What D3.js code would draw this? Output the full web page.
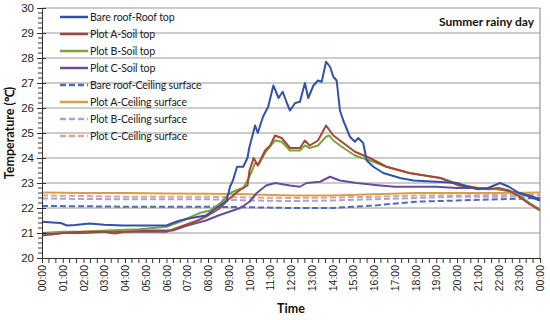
<!DOCTYPE html>
<html><head><meta charset="utf-8">
<script src="https://cdn.jsdelivr.net/npm/d3@7"></script>
<style>body{margin:0;background:#fff}svg{display:block;font-family:Lato,"Open Sans",sans-serif}</style>
</head><body><svg id="c" width="550" height="320"></svg>
<script>
const seriesNames = ["Bare roof-Roof top","Plot A-Soil top","Plot B-Soil top","Plot C-Soil top","Bare roof-Ceiling surface","Plot A-Ceiling surface","Plot B-Ceiling surface","Plot C-Ceiling surface"];
const seriesColors = ["#3152a6","#a4473a","#7fa23c","#6a4c9c","#4a6db5","#d4a04a","#a9a3dc","#dca596"];
const seriesDash = [null,null,null,null,"6,3",null,"6,3","6,3"];
const yTicks = [20,21,22,23,24,25,26,27,28,29,30];
const xTickLabels = ["00:00","01:00","02:00","03:00","04:00","05:00","06:00","07:00","08:00","09:00","10:00","11:00","12:00","13:00","14:00","15:00","16:00","17:00","18:00","19:00","20:00","21:00","22:00","23:00","00:00"];

const roofTopT = [0,0.5,0.9,1.2,1.6,2.3,3.0,3.9,4.5,5.2,6.0,6.3,6.65,7.2,7.9,8.4,8.9,9.06,9.2,9.4,9.7,9.9,10.0,10.27,10.4,10.65,10.9,11.15,11.4,11.6,11.8,11.95,12.2,12.43,12.67,12.83,13.08,13.3,13.48,13.69,13.88,14.04,14.2,14.36,14.52,14.84,15.08,15.24,15.48,15.65,15.97,16.45,17.25,17.9,19.0,20.0,20.5,21.0,21.5,22.07,22.5,23.0,23.5,24];
const roofTopV = [21.45,21.42,21.4,21.3,21.32,21.38,21.33,21.3,21.3,21.3,21.3,21.4,21.5,21.6,21.7,22.0,22.3,22.85,23.1,23.65,23.65,24.0,24.45,25.3,25.0,25.65,26.05,26.9,26.4,26.65,26.2,25.9,26.2,26.25,27.0,26.4,26.9,27.1,27.05,27.85,27.65,27.25,27.1,25.9,25.5,24.85,24.65,24.8,24.6,23.9,23.65,23.4,23.2,23.1,23.05,23.0,22.85,22.75,22.8,23.0,22.85,22.6,22.45,22.3];

const soilAT = [0,0.5,1,2,3,3.5,4,5,6,6.5,7,7.5,8,8.5,9,9.5,9.9,10.0,10.2,10.4,10.75,11.0,11.23,11.55,11.95,12.43,12.67,12.9,13.3,13.69,14.04,14.36,15.08,15.8,16.6,17.7,19.2,20.1,21,21.5,22,22.5,23,23.5,24];
const soilAV = [21.0,20.95,21.0,21.05,21.05,20.98,21.05,21.05,21.05,21.2,21.35,21.5,21.7,21.95,22.35,22.7,22.9,23.5,24.0,23.7,24.3,24.5,24.9,24.8,24.4,24.4,24.7,24.5,24.7,25.3,24.9,24.7,24.25,24.0,23.65,23.4,23.2,22.9,22.8,22.75,22.8,22.7,22.45,22.15,21.9];

const soilBT = [0,1,2,3.1,4.7,6.0,6.65,7.6,8.1,8.6,9.06,9.5,9.7,10.0,10.27,10.45,10.75,11.23,11.55,11.95,12.43,12.67,12.9,13.3,13.69,13.85,14.04,14.36,15.08,15.8,16.6,17.7,19.2,20.1,21,22,22.5,23,23.5,24];
const soilBV = [21.0,21.05,21.05,21.1,21.15,21.25,21.45,21.8,21.9,22.2,22.6,22.75,22.8,23.25,23.8,23.75,24.2,24.7,24.65,24.3,24.3,24.5,24.4,24.5,24.85,24.9,24.7,24.5,24.1,23.9,23.65,23.4,23.2,22.95,22.8,22.75,22.7,22.5,22.2,21.95];

const soilCT = [0,0.5,1,2,3,4,5,6,6.3,7,7.9,8.5,9.55,10.0,10.35,10.8,11.23,11.95,12.43,12.75,13.4,13.88,14.36,15.17,16.3,17,18,19,20,21,22,23,23.5,24];
const soilCV = [20.9,20.95,21.0,21.0,21.05,21.05,21.1,21.1,21.1,21.3,21.5,21.7,22.0,22.25,22.6,22.9,23.0,22.9,22.85,23.0,23.05,23.25,23.1,23.0,22.9,22.85,22.85,22.85,22.8,22.8,22.75,22.6,22.5,22.35];

const ceilT = [0,2,4,6,8,10,12,14,16,18,20,22,24];
const ceilBareV = [22.08,22.07,22.05,22.05,22.05,22.03,22.0,22.0,22.1,22.25,22.3,22.35,22.4];
const ceilAV = [22.62,22.6,22.6,22.58,22.57,22.55,22.5,22.5,22.55,22.6,22.6,22.6,22.62];
const ceilBV = [22.38,22.36,22.35,22.35,22.35,22.3,22.28,22.3,22.35,22.4,22.45,22.45,22.5];
const ceilCV = [22.5,22.48,22.45,22.45,22.45,22.42,22.4,22.42,22.45,22.5,22.5,22.52,22.55];

const seriesT = [roofTopT,soilAT,soilBT,soilCT,ceilT,ceilT,ceilT,ceilT];
const seriesV = [roofTopV,soilAV,soilBV,soilCV,ceilBareV,ceilAV,ceilBV,ceilCV];

const svg = d3.select("#c");
const L=42,R=540,T=8,B=258;
const x = d3.scaleLinear().domain([0,24]).range([L,R]);
const y = d3.scaleLinear().domain([20,30]).range([B,T]);

svg.append("g").selectAll("line").data(yTicks.filter(d=>d>20)).join("line")
  .attr("x1",L).attr("x2",R).attr("y1",d=>y(d)).attr("y2",d=>y(d))
  .attr("stroke","#9a9a9a").attr("stroke-width",1.2);
svg.append("line").attr("x1",R).attr("x2",R).attr("y1",T).attr("y2",B).attr("stroke","#9a9a9a").attr("stroke-width",1.2);

const order=[4,5,6,7,3,2,1,0];
const line = d3.line().x(d=>x(d[0])).y(d=>y(d[1])).curve(d3.curveLinear);
order.forEach(i=>{
  const pts = seriesT[i].map((t,k)=>[t,seriesV[i][k]]);
  svg.append("path").attr("d",line(pts)).attr("fill","none")
    .attr("stroke",seriesColors[i]).attr("stroke-width",2)
    .attr("stroke-dasharray",seriesDash[i]).attr("stroke-linejoin","round");
});

const ya = svg.append("g").attr("transform",`translate(${L},0)`)
  .call(d3.axisLeft(y).tickValues(yTicks).tickFormat(d3.format("d")).tickSize(5).tickSizeOuter(0));
ya.select(".domain").attr("stroke","#333");
ya.selectAll(".tick line").attr("stroke","#333").attr("x2",-5).attr("x1",4);
ya.selectAll("text").attr("font-size",11.5).attr("fill","#222").attr("x",-8);
const minorY = d3.range(200,301,2).map(v=>v/10).filter(v=>Math.abs(v-Math.round(v))>0.01);
ya.append("g").selectAll("line").data(minorY).join("line")
  .attr("x1",-4).attr("x2",0).attr("y1",d=>y(d)).attr("y2",d=>y(d)).attr("stroke","#333");

const xa = svg.append("g").attr("transform",`translate(0,${B})`)
  .call(d3.axisBottom(x).tickValues(d3.range(0,25,1)).tickFormat((d,i)=>xTickLabels[i]).tickSize(5).tickSizeOuter(0));
xa.select(".domain").attr("stroke","#333");
xa.selectAll(".tick line").attr("stroke","#333");
xa.selectAll("text").attr("font-size",10.5).attr("fill","#222")
  .attr("transform","rotate(-90)").attr("text-anchor","end").attr("x",-7).attr("y",0).attr("dy","0.35em");
const minorX = d3.range(0,72).map(k=>k/3).filter(v=>Math.abs(v-Math.round(v))>0.01);
xa.append("g").selectAll("line").data(minorX).join("line")
  .attr("x1",d=>x(d)).attr("x2",d=>x(d)).attr("y1",0).attr("y2",5).attr("stroke","#333");

svg.append("text").attr("transform",`translate(14,${(T+B)/2}) rotate(-90)`).attr("text-anchor","middle")
  .attr("font-size",12.5).attr("font-weight","bold").attr("fill","#111").text("Temperature (℃)");
svg.append("text").attr("x",(L+R)/2).attr("y",313).attr("text-anchor","middle")
  .attr("font-size",12.5).attr("font-weight","bold").attr("fill","#111").text("Time");
svg.append("text").attr("x",534).attr("y",26).attr("text-anchor","end")
  .attr("font-size",12).attr("font-weight","bold").attr("fill","#111").text("Summer rainy day");

const lg = svg.append("g");
seriesNames.forEach((n,i)=>{
  const yy = 17 + i*17;
  lg.append("line").attr("x1",60).attr("x2",88).attr("y1",yy).attr("y2",yy)
    .attr("stroke",seriesColors[i]).attr("stroke-width",2.5).attr("stroke-dasharray",seriesDash[i]);
  lg.append("text").attr("x",90).attr("y",yy).attr("dy","0.35em").attr("font-size",10.6)
    .attr("letter-spacing","-0.15").attr("fill","#222").text(n);
});
</script></body></html>
